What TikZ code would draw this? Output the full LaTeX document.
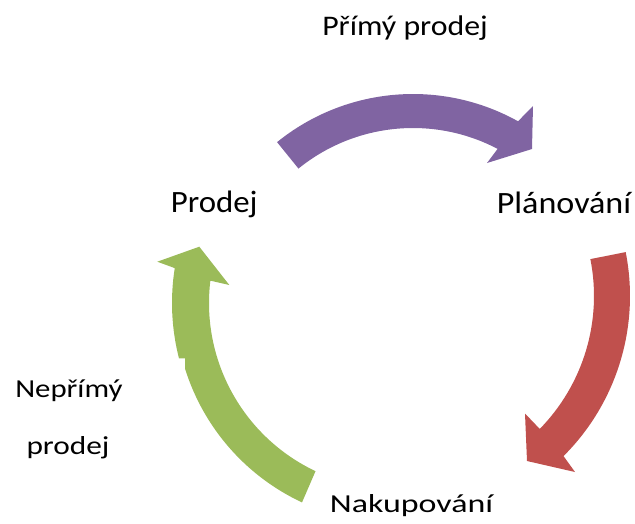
\documentclass[tikz,border=0pt]{standalone}
\usepackage{fontspec}
\setmainfont{Carlito}
\usetikzlibrary{calc}
\definecolor{purp}{HTML}{8064A2}
\definecolor{redd}{HTML}{C0504D}
\definecolor{grn}{HTML}{9BBB59}
\tikzset{
  lbl/.style={inner sep=0pt, outer sep=0pt, anchor=base, text=black},
  cyclearrow/.style={draw=none}
}
\begin{document}
\begin{tikzpicture}[x=1pt,y=-1pt]
\useasboundingbox (0,0) rectangle (635,523);
\coordinate (cp) at (413,310);
\coordinate (cr) at (404,296);
\coordinate (cg) at (395,303);
% purple arrow (top)
\fill[purp, cyclearrow] ($(cp)+(231:216)$) arc[start angle=231,end angle=299.1,radius=216]
  -- (533,106) -- (532,149) -- (487,163)
  -- ($(cp)+(297.7:182)$) arc[start angle=297.7,end angle=231,radius=182] -- cycle;
% red arrow (right)
\fill[redd, cyclearrow] ($(cr)+(-11.2:226)$) arc[start angle=-11.2,end angle=45.1,radius=226]
  -- (575,472) -- (527,461) -- (525,413.5)
  -- ($(cr)+(44.4:190)$) arc[start angle=44.4,end angle=-11.2,radius=190] -- cycle;
% green arrow (left)
\fill[grn, cyclearrow] ($(cg)+(115:220)$) arc[start angle=115,end angle=162.6,radius=220]
  -- (185,358.3) -- ($(cg)+(165.6:223)$) arc[start angle=165.6,end angle=189,radius=223]
  -- (157.3,261.7) -- (199.3,246.7) -- (229.3,285)
  -- ($(cg)+(186.9:186)$) arc[start angle=186.9,end angle=115.3,radius=186] -- cycle;
% labels
\node[lbl] (pp) at (405,35) {\fontsize{28.4}{30}\selectfont\scalebox{1.12}[1]{Přímý prodej}};
\node[lbl] (pr) at (214.2,212.7) {\fontsize{31}{33}\selectfont\scalebox{1.06}[1]{Prodej}};
\node[lbl] (pl) at (564,213.3) {\fontsize{31}{33}\selectfont\scalebox{1.10}[1]{Plánování}};
\node[lbl] (na) at (411.5,512.3) {\fontsize{25.9}{28}\selectfont\scalebox{1.31}[1]{Nakupování}};
\node[lbl] (np1) at (68.9,397.3) {\fontsize{25.9}{28}\selectfont\scalebox{1.19}[1]{Nepřímý}};
\node[lbl] (np2) at (68,454.3) {\fontsize{25.9}{28}\selectfont\scalebox{1.21}[1]{prodej}};
\end{tikzpicture}
\end{document}
